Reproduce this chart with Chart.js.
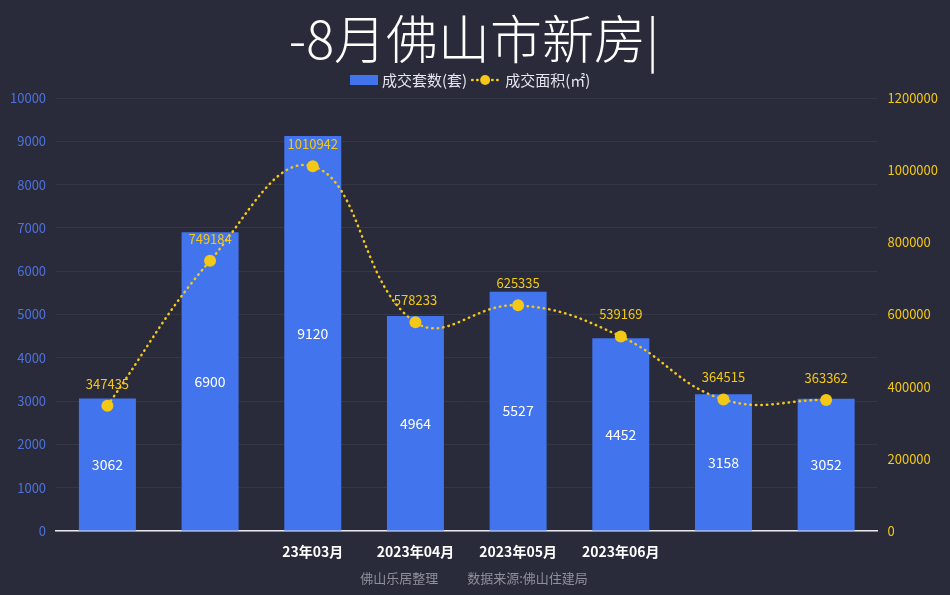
<!DOCTYPE html>
<html>
<head>
<meta charset="utf-8">
<script src="https://cdn.jsdelivr.net/npm/chart.js@4"></script>
<style>
html,body{margin:0;padding:0;background:#2a2b3a;}
#wrap{width:950px;height:595px;}
</style>
</head>
<body>
<div id="wrap"><canvas id="c" width="950" height="595"></canvas></div>
<script>
const categories = ['', '', '23年03月', '2023年04月', '2023年05月', '2023年06月', '', ''];
const unitsSold = [3062, 6900, 9120, 4964, 5527, 4452, 3158, 3052];
const areaSold = [347435, 749184, 1010942, 578233, 625335, 539169, 364515, 363362];
const leftTicks = [0, 1000, 2000, 3000, 4000, 5000, 6000, 7000, 8000, 9000, 10000];
const rightTicks = [0, 200000, 400000, 600000, 800000, 1000000, 1200000];
const titleText = '-8月佛山市新房|';
const legendBar = '成交套数(套)';
const legendLine = '成交面积(㎡)';
const footerText = '佛山乐居整理          数据来源:佛山住建局';

const FONT = '"Noto Sans CJK SC", "Noto Sans", sans-serif';
const BLUE = '#4274ee';
const YELLOW = '#f3c816';

const labelPlugin = {
  id: 'valueLabels',
  afterDatasetsDraw(chart) {
    const ctx = chart.ctx;
    ctx.save();
    const m0 = chart.getDatasetMeta(0);
    ctx.font = '14px ' + FONT;
    ctx.fillStyle = '#ffffff';
    ctx.textAlign = 'center';
    ctx.textBaseline = 'middle';
    m0.data.forEach((el, i) => {
      ctx.fillText(String(unitsSold[i]), el.x, (el.y + el.base) / 2);
    });
    const m1 = chart.getDatasetMeta(1);
    ctx.font = '13px ' + FONT;
    ctx.fillStyle = YELLOW;
    m1.data.forEach((el, i) => {
      ctx.fillText(String(areaSold[i]), el.x, el.y - 22);
    });
    ctx.restore();
  },
  afterDraw(chart) {
    const ctx = chart.ctx;
    ctx.save();
    const y = 80;
    ctx.fillStyle = BLUE;
    ctx.fillRect(350, y - 5, 28, 10);
    ctx.font = '15px ' + FONT;
    ctx.fillStyle = '#e6e6ee';
    ctx.textAlign = 'left';
    ctx.textBaseline = 'middle';
    ctx.fillText(legendBar, 382, y);
    const w1 = ctx.measureText(legendBar).width;
    const lx = 382 + w1 + 5;
    ctx.strokeStyle = YELLOW;
    ctx.lineWidth = 2.5;
    ctx.lineCap = 'round';
    ctx.setLineDash([0.5, 4.5]);
    ctx.beginPath();
    ctx.moveTo(lx, y);
    ctx.lineTo(lx + 26, y);
    ctx.stroke();
    ctx.setLineDash([]);
    ctx.fillStyle = YELLOW;
    ctx.beginPath();
    ctx.arc(lx + 13, y, 5, 0, Math.PI * 2);
    ctx.fill();
    ctx.fillStyle = '#e6e6ee';
    ctx.fillText(legendLine, lx + 33, y);
    ctx.restore();
  }
};

new Chart(document.getElementById('c'), {
  data: {
    labels: categories,
    datasets: [
      {
        type: 'bar',
        label: legendBar,
        data: unitsSold,
        backgroundColor: BLUE,
        yAxisID: 'y',
        barPercentage: 0.555,
        categoryPercentage: 1,
        order: 2
      },
      {
        type: 'line',
        label: legendLine,
        data: areaSold,
        yAxisID: 'y1',
        borderColor: YELLOW,
        borderWidth: 2.5,
        borderDash: [0.5, 5],
        borderCapStyle: 'round',
        tension: 0.42,
        pointRadius: 6,
        pointHoverRadius: 6,
        pointBackgroundColor: YELLOW,
        pointBorderColor: YELLOW,
        pointBorderWidth: 0,
        fill: false,
        order: 1
      }
    ]
  },
  options: {
    responsive: false,
    animation: false,
    layout: { padding: { left: 0, right: 2, top: 8, bottom: 10 } },
    plugins: {
      legend: { display: false },
      tooltip: { enabled: false },
      title: {
        display: true,
        text: titleText,
        color: '#ffffff',
        font: { family: FONT, size: 52, weight: 300 },
        padding: { top: 0, bottom: 27.6 }
      },
      subtitle: {
        display: true,
        position: 'bottom',
        text: footerText,
        color: '#8f909b',
        font: { family: FONT, size: 13, lineHeight: 1 },
        padding: { top: 0, bottom: 0 }
      }
    },
    scales: {
      x: {
        grid: { display: false, drawTicks: false },
        border: { display: true, color: '#e8e8ee', width: 1.5 },
        afterFit(scale) { scale.height = 41; },
        ticks: {
          color: '#ffffff',
          font: { family: FONT, size: 14, weight: 'bold', lineHeight: 0.7 },
          maxRotation: 0,
          autoSkip: false,
          padding: 16
        }
      },
      y: {
        position: 'left',
        min: 0,
        max: 10000,
        afterBuildTicks(axis) { axis.ticks = leftTicks.map(v => ({ value: v })); },
        grid: { color: 'rgba(255,255,255,0.06)', drawTicks: false },
        border: { display: false },
        ticks: {
          color: '#4d72dc',
          font: { family: FONT, size: 13 },
          padding: 10,
          callback: v => String(v)
        }
      },
      y1: {
        position: 'right',
        min: 0,
        max: 1200000,
        afterBuildTicks(axis) { axis.ticks = rightTicks.map(v => ({ value: v })); },
        grid: { display: false, drawTicks: false },
        border: { display: false },
        ticks: {
          color: YELLOW,
          font: { family: FONT, size: 13 },
          padding: 10,
          callback: v => String(v)
        }
      }
    }
  },
  plugins: [labelPlugin]
});
</script>
</body>
</html>
